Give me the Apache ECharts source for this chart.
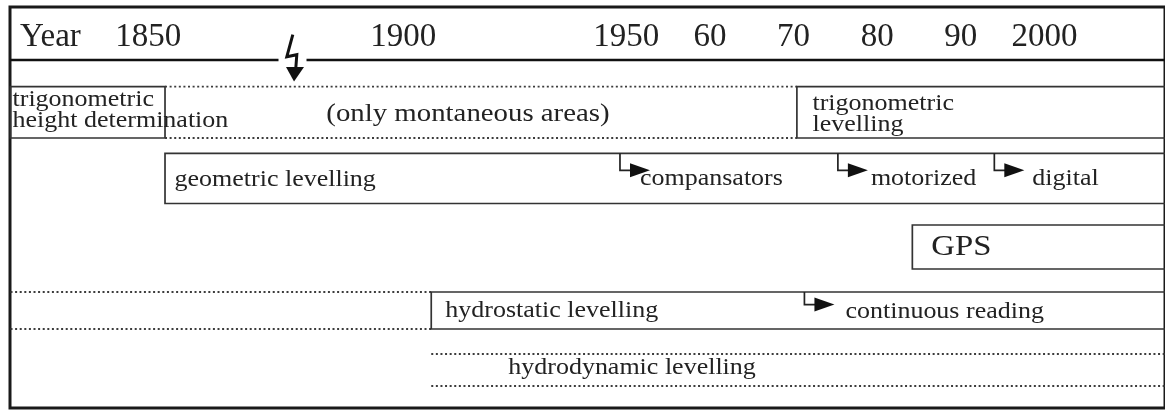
<!DOCTYPE html>
<html>
<head>
<meta charset="utf-8">
<script src="https://cdn.jsdelivr.net/npm/echarts@6.0.0/dist/echarts.min.js"></script>
<style>
html, body { margin: 0; padding: 0; background: #fff; }
#chart { width: 1165px; height: 410px; }
</style>
</head>
<body>
<div id="chart"></div>
<script>
// time axis ticks
var tickYears = [1850, 1900, 1950, 1960, 1970, 1980, 1990, 2000];
var tickText = ['1850', '1900', '1950', '60', '70', '80', '90', '2000'];

// periods (boxes and dotted bands), one entry each
var periodLabel = ['trigonometric\nheight determination', '(only montaneous areas)', 'trigonometric\nlevelling',
    'geometric levelling', 'GPS', '', 'hydrostatic levelling', 'hydrodynamic levelling'];
var periodRow = [0, 0, 0, 1, 2, 3, 3, 4];
var periodStart = [1823, 1853.3, 1970.4, 1853.3, 1984.2, 1823, 1906.3, 1906.3];
var periodEnd = [1853.3, 1970.4, 2020, 2020, 2020, 1906.3, 2020, 2020];
var periodDotted = [false, true, false, false, false, true, false, true];

// changes of technique inside a method
var changeLabel = ['compansators', 'motorized', 'digital', 'continuous reading'];
var changeRow = [1, 1, 1, 3];
var changeYear = [1948.6, 1975.3, 1994.0, 1971.3];

// axis break (lightning) between 1850 and 1900
var breakYear = 1878.5;

// the original time scale is compressed before 1950
function toAxis(y) {
    if (y >= 1950) return y;
    if (y >= 1900) return 1950 - (1950 - y) * 0.5333;
    return 1950 - 50 * 0.5333 - (1900 - y) * 0.6095;
}

// layout (pixels below the top frame line)
var headerY = 53;
var rowMid = [105.3, 171.4, 240, 303.5, 363];
var rowHalf = [25.7, 25.1, 22, 18.5, 16];
var periodAlign = ['left', 'center', 'left', 'left', 'left', 'left', 'left', 'left'];
var periodDx = [2, -13, 15.6, 9.5, 19, 0, 14, 77];
var periodDy = [-2, 2, 2, 2, 0, 0, 0.5, -2];
var periodFont = [23, 25.5, 23, 23, 29, 23, 23, 23];
var changeDx = [-10, 3, 8, 11];
var serif = '"Liberation Serif", "Times New Roman", serif';
var stretch = 1.13;   // text in the original is a bit wide

var axisVals = tickYears.map(toAxis);

var periodData = periodStart.map(function (s, i) {
    return [toAxis(s), toAxis(periodEnd[i]), periodRow[i], i];
});
var changeData = changeYear.map(function (y, i) {
    return [toAxis(y), changeRow[i], i];
});

function renderPeriod(params, api) {
    var i = api.value(3);
    var row = periodRow[i];
    var p0 = api.coord([api.value(0), rowMid[row] - rowHalf[row]]);
    var p1 = api.coord([api.value(1), rowMid[row] + rowHalf[row]]);
    var kids = [];
    if (periodDotted[i]) {
        [p0[1], p1[1]].forEach(function (yy) {
            kids.push({
                type: 'line',
                shape: { x1: p0[0], y1: yy, x2: p1[0], y2: yy },
                style: { stroke: '#3c3c3c', lineWidth: 1.8, lineDash: [2, 2.6] }
            });
        });
    } else {
        kids.push({
            type: 'rect',
            shape: { x: p0[0], y: p0[1], width: p1[0] - p0[0], height: p1[1] - p0[1] },
            style: { fill: 'none', stroke: '#333', lineWidth: 1.7 }
        });
    }
    if (periodLabel[i]) {
        var tx = periodAlign[i] === 'center' ? (p0[0] + p1[0]) / 2 : p0[0];
        kids.push({
            type: 'text',
            x: tx + periodDx[i],
            y: (p0[1] + p1[1]) / 2 + periodDy[i],
            scaleX: stretch,
            style: {
                text: periodLabel[i],
                fill: '#222',
                font: periodFont[i] + 'px ' + serif,
                lineHeight: 20.5,
                align: periodAlign[i],
                verticalAlign: 'middle'
            }
        });
    }
    return { type: 'group', children: kids };
}

function renderChange(params, api) {
    var i = api.value(2);
    var row = changeRow[i];
    var top = api.coord([api.value(0), rowMid[row] - rowHalf[row]]);
    var mid = api.coord([api.value(0), rowMid[row]]);
    var x = top[0];
    var h = 2 * (mid[1] - top[1]);
    var ay = top[1] + 0.34 * h;
    return {
        type: 'group',
        children: [
            { type: 'polyline', shape: { points: [[x, top[1]], [x, ay], [x + 11, ay]] },
              style: { stroke: '#222', lineWidth: 1.7, fill: null } },
            { type: 'polygon', shape: { points: [[x + 10, ay - 7], [x + 30, ay], [x + 10, ay + 7]] },
              style: { fill: '#111' } },
            { type: 'text', x: x + 30 + changeDx[i], y: mid[1] + 1, scaleX: stretch,
              style: { text: changeLabel[i], fill: '#222', font: '23px ' + serif,
                       align: 'left', verticalAlign: 'middle' } }
        ]
    };
}

function renderHeader(params, api) {
    var p = api.coord([api.value(0), api.value(1)]);
    var cs = params.coordSys;
    var x = p[0], y = p[1];
    return {
        type: 'group',
        children: [
            { type: 'line', shape: { x1: cs.x, y1: y, x2: x - 15, y2: y }, style: { stroke: '#111', lineWidth: 2.6 } },
            { type: 'line', shape: { x1: x + 13, y1: y, x2: cs.x + cs.width, y2: y }, style: { stroke: '#111', lineWidth: 2.6 } },
            { type: 'polyline', shape: { points: [[x - 0.7, y - 25.3], [x - 6.7, y - 3.3], [x + 3.3, y - 5.3], [x + 2.3, y + 8]] },
              style: { stroke: '#111', lineWidth: 3, fill: null, lineJoin: 'miter' } },
            { type: 'polygon', shape: { points: [[x - 7.5, y + 7], [x + 10.5, y + 7], [x + 0.5, y + 21.5]] },
              style: { fill: '#111' } }
        ]
    };
}

var chart = echarts.init(document.getElementById('chart'));
chart.setOption({
    backgroundColor: '#fff',
    animation: false,
    grid: {
        left: 10, right: -5, top: 7, bottom: 2,
        show: true, borderColor: '#1a1a1a', borderWidth: 3, backgroundColor: '#fff'
    },
    xAxis: {
        type: 'value',
        position: 'top',
        min: toAxis(1822.9),
        max: toAxis(2014.4),
        name: 'Year',
        nameLocation: 'start',
        nameGap: -10,
        nameTextStyle: {
            fontFamily: serif, fontSize: 33, color: '#222',
            align: 'left', verticalAlign: 'top', padding: [14, 0, 0, 0]
        },
        axisLine: { show: false },
        axisTick: { show: false },
        splitLine: { show: false },
        axisLabel: {
            inside: true,
            customValues: axisVals,
            margin: 30,
            verticalAlign: 'middle',
            fontFamily: serif,
            fontSize: 33,
            color: '#222',
            formatter: function (v) {
                for (var k = 0; k < axisVals.length; k++) {
                    if (Math.abs(axisVals[k] - v) < 0.01) return tickText[k];
                }
                return '';
            }
        }
    },
    yAxis: { type: 'value', min: 0, max: 401, inverse: true, show: false },
    series: [
        { type: 'custom', name: 'header', renderItem: renderHeader, data: [[toAxis(breakYear), headerY]], silent: true },
        { type: 'custom', name: 'periods', renderItem: renderPeriod, data: periodData, silent: true },
        { type: 'custom', name: 'changes', renderItem: renderChange, data: changeData, silent: true }
    ]
});
</script>
</body>
</html>
